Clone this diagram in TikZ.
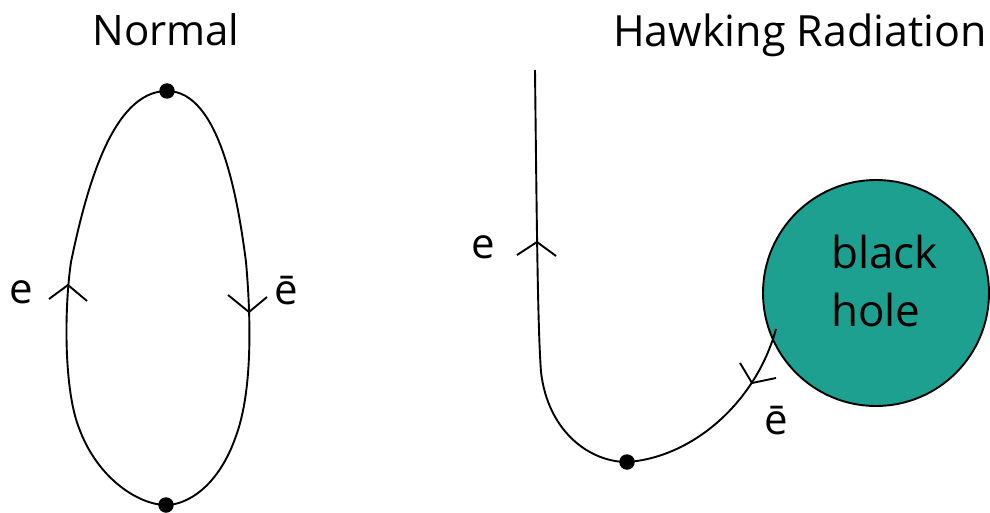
\documentclass[tikz,border=0pt]{standalone}
\usepackage{fontspec}
\setmainfont{Open Sans}
\usetikzlibrary{calc}
\definecolor{bhteal}{HTML}{1DA08F}
\begin{document}
\begin{tikzpicture}[x=1pt,y=-1pt,
  line/.style={line width=1.9pt},
  vtx/.style={circle,fill=black,inner sep=0pt,minimum size=15.5pt},
  chev/.style={line width=1.9pt},
  lbl/.style={font=\fontsize{42}{46}\selectfont,inner sep=0pt},
  bhl/.style={font=\fontsize{44}{50}\selectfont,inner sep=0pt,anchor=base west},
  ttl/.style={font=\fontsize{42}{46}\selectfont,inner sep=0pt,anchor=base}]
\useasboundingbox (0,0) rectangle (990,513);
% titles
\node[ttl] (tn) at (166,46) {Normal};
\node[ttl,font=\fontsize{43}{47}\selectfont] (th) at (800,47) {Hawking Radiation};
% left loop
\node[vtx] (top) at (167,91) {};
\node[vtx] (bot) at (166,505) {};
\draw[line] (top.center) .. controls (112,91) and (86,190) .. (71,262)
  .. controls (64,310) and (64,390) .. (79,428)
  .. controls (98,480) and (140,505) .. (bot.center);
\draw[line] (top.center) .. controls (220,91) and (238,200) .. (246,262)
  .. controls (252,330) and (251,395) .. (236,436)
  .. controls (218,488) and (186,505) .. (bot.center);
% left chevrons
\coordinate (la) at (68,285);
\draw[chev] ($(la)+(-19,14)$) -- (la) -- ($(la)+(19,16)$);
\coordinate (ra) at (249,312);
\draw[chev] ($(ra)+(-21,-17)$) -- (ra) -- ($(ra)+(18,-15)$);
\node[lbl] (le) at (21,292) {e};
\node[lbl] (re) at (286,291) {ē};
% black hole
\node[circle,draw=black,line width=1.9pt,fill=bhteal,minimum size=226pt,inner sep=0pt] (bh) at (876,293) {};
\node[bhl] (bh1) at (831,268) {black};
\node[bhl] (bh2) at (831,326) {hole};
% right path
\node[vtx] (pair) at (627,462) {};
\coordinate (start) at (535,70);
\coordinate (bhe) at (776,329);
\draw[line] (start) .. controls (537,250) and (538,330) .. (541,372)
  .. controls (548,432) and (590,462) .. (pair.center)
  .. controls (690,458) and (755,405) .. (bhe);
\coordinate (ea) at (537,242);
\draw[chev] ($(ea)+(-20,13)$) -- (ea) -- ($(ea)+(19,14)$);
\coordinate (eb) at (752,383);
\draw[chev] ($(eb)+(-12,-20)$) -- (eb) -- ($(eb)+(24,-5)$);
\node[lbl] (e2) at (483,247) {e};
\node[lbl] (e3) at (776,421) {ē};
\end{tikzpicture}
\end{document}
